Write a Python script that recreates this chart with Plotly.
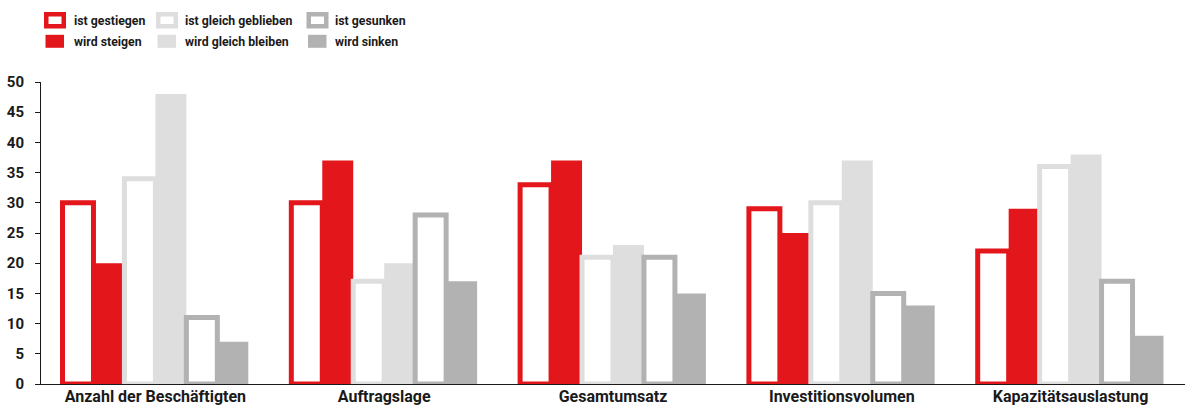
import plotly.graph_objects as go

# Categories and survey shares (in %)
categories = [
    "Anzahl der Beschäftigten",
    "Auftragslage",
    "Gesamtumsatz",
    "Investitionsvolumen",
    "Kapazitätsauslastung",
]
ist_gestiegen = [30, 30, 33, 29, 22]
wird_steigen = [20, 37, 37, 25, 29]
ist_gleich = [34, 17, 21, 30, 36]
wird_gleich = [48, 20, 23, 37, 38]
ist_gesunken = [11, 28, 21, 15, 17]
wird_sinken = [7, 17, 15, 13, 8]

series_names = [
    "ist gestiegen", "wird steigen",
    "ist gleich geblieben", "wird gleich bleiben",
    "ist gesunken", "wird sinken",
]
y_ticks = list(range(0, 55, 5))

RED = "#e3171b"
LIGHT = "#dedede"
GREY = "#b2b2b2"
TEXT = "#1a1a1a"
FONT = "Roboto"

W, H = 1185, 407
M_L, M_R, M_T, M_B = 41, 0, 82, 23

fig = go.Figure()

series = [
    (series_names[0], ist_gestiegen, RED, True),
    (series_names[1], wird_steigen, RED, False),
    (series_names[2], ist_gleich, LIGHT, True),
    (series_names[3], wird_gleich, LIGHT, False),
    (series_names[4], ist_gesunken, GREY, True),
    (series_names[5], wird_sinken, GREY, False),
]

for name, vals, col, outlined in series:
    if outlined:
        marker = dict(color="white", line=dict(color=col, width=5))
    else:
        marker = dict(color=col, line=dict(width=0))
    fig.add_trace(go.Bar(
        x=categories, y=vals, name=name, marker=marker,
        showlegend=False, hoverinfo="skip",
    ))

# Legend drawn as shapes + text in pixel positions above the plot
pw = W - M_L - M_R
ph = H - M_T - M_B


def px_x(x):
    return (x - M_L) / pw


def px_y(y):
    return (H - M_B - y) / ph


shapes = []
annotations = []
legend_cols = [(44, 72, RED), (156, 183, LIGHT), (306.5, 333, GREY)]
for i, (bx, tx, col) in enumerate(legend_cols):
    # outlined key (ist ...)
    shapes.append(dict(
        type="rect", xref="paper", yref="paper",
        x0=px_x(bx + 2.25), x1=px_x(bx + 19.75),
        y0=px_y(14.25), y1=px_y(26.25),
        line=dict(color=col, width=4.5), fillcolor="white", layer="above",
    ))
    # filled key (wird ...)
    shapes.append(dict(
        type="rect", xref="paper", yref="paper",
        x0=px_x(bx + 1.5), x1=px_x(bx + 20),
        y0=px_y(34.8), y1=px_y(47.8),
        line=dict(width=0), fillcolor=col, layer="above",
    ))
    for row, ty in enumerate([20.5, 41.5]):
        annotations.append(dict(
            xref="paper", yref="paper", x=px_x(tx), y=px_y(ty),
            text=series_names[2 * i + row], showarrow=False,
            xanchor="left", yanchor="middle",
            font=dict(family=FONT, size=12.3, color=TEXT, weight=700),
        ))

fig.update_layout(
    width=W, height=H,
    margin=dict(l=M_L, r=M_R, t=M_T, b=M_B, autoexpand=False),
    paper_bgcolor="white", plot_bgcolor="white",
    barmode="group", bargap=0.188, bargroupgap=0,
    shapes=shapes, annotations=annotations,
    showlegend=False,
    xaxis=dict(
        showline=True, linecolor=TEXT, linewidth=1,
        ticks="", showgrid=False, zeroline=False,
        tickfont=dict(family=FONT, size=16, color=TEXT, weight=700),
        ticklabelstandoff=-2,
        automargin=False, fixedrange=True,
    ),
    yaxis=dict(
        range=[0, 50], tickvals=y_ticks,
        showline=True, linecolor=TEXT, linewidth=1,
        ticks="outside", ticklen=5, tickcolor=TEXT, tickwidth=1,
        showgrid=False, zeroline=False,
        tickfont=dict(family=FONT, size=15, color=TEXT, weight=700),
        ticklabelstandoff=8,
        automargin=False, fixedrange=True,
    ),
)

fig.write_html("out.html", config={"displayModeBar": False})
